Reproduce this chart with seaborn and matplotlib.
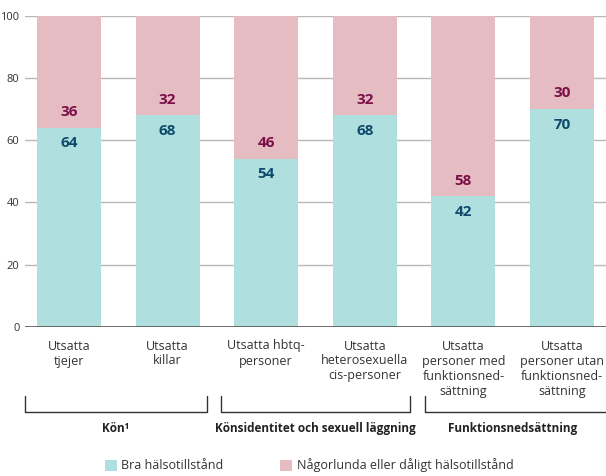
import numpy as np
import matplotlib
matplotlib.use("Agg")
import matplotlib.pyplot as plt
from matplotlib.patches import Patch
import seaborn as sns

# data
###############################################################################
categories = ["Utsatta\ntjejer", "Utsatta\nkillar", "Utsatta hbtq-\npersoner",
              "Utsatta\nheterosexuella\ncis-personer",
              "Utsatta\npersoner med\nfunktionsned-\nsättning",
              "Utsatta\npersoner utan\nfunktionsned-\nsättning"]
good = np.array([64, 68, 54, 68, 42, 70])
poor = np.array([36, 32, 46, 32, 58, 30])
groups = ["Kön¹", "Könsidentitet och sexuell läggning", "Funktionsnedsättning"]
group_span = [(-0.45, 1.40), (1.54, 3.46), (3.61, 5.7)]
yticks = [0, 20, 40, 60, 80, 100]
legend_labels = ["Bra hälsotillstånd", "Någorlunda eller dåligt hälsotillstånd"]

blue = "#b0dfe0"
pink = "#e5bcc2"
blue_txt = "#0d4a6b"
pink_txt = "#7b0f47"

sns.set_style("white")
plt.rcParams['font.family'] = ['Open Sans', 'Noto Sans', 'DejaVu Sans']

fig = plt.figure(figsize=(6.06, 4.76), dpi=100)
ax = fig.add_axes([25 / 606, 149 / 476, 581 / 606, 311.5 / 476])

# stacked bars: total first, good on top of it
###############################################################################
sns.barplot(x=categories, y=good + poor, color=pink, saturation=1, width=0.65,
            linewidth=0, ax=ax, zorder=2)
sns.barplot(x=categories, y=good, color=blue, saturation=1, width=0.65,
            linewidth=0, ax=ax, zorder=3)

for i, (g, p) in enumerate(zip(good, poor)):
    ax.text(i, g - 5, str(g), ha='center', va='center', fontsize=11,
            fontweight='bold', color=blue_txt, zorder=4)
    ax.text(i, g + 5, str(p), ha='center', va='center', fontsize=11,
            fontweight='bold', color=pink_txt, zorder=4)

ax.set_xlim(-0.446, 5.446)
ax.set_ylim(0, 100)
ax.set_yticks(yticks)
ax.set_yticklabels([str(v) for v in yticks])
ax.grid(axis='y', color='#b8b8b8', linewidth=1, zorder=0)
ax.axhline(0, color='#555555', linewidth=1.2, zorder=5)
for s in ax.spines.values():
    s.set_visible(False)
ax.tick_params(axis='y', length=0, pad=4, labelsize=8, labelcolor='#333333')
ax.tick_params(axis='x', length=0, pad=9, labelsize=9, labelcolor='#333333')
ax.set_xlabel('')
ax.set_ylabel('')

# group brackets
###############################################################################
tr = ax.get_xaxis_transform()
y_top, y_bot, y_lab = -0.2215, -0.273, -0.327
for name, (a, b) in zip(groups, group_span):
    ax.plot([a, a, b, b], [y_top, y_bot, y_bot, y_top], color='#333333',
            linewidth=1, transform=tr, clip_on=False)
    ax.text((a + b) / 2 if b < 5.5 else 4.5, y_lab, name, ha='center', va='center',
            fontsize=8.5, fontweight='bold', color='#222222', transform=tr)

handles = [Patch(facecolor=blue, edgecolor='none'), Patch(facecolor=pink, edgecolor='none')]
fig.legend(handles, legend_labels, loc='center', bbox_to_anchor=(0.51, 0.022), ncol=2,
           frameon=False, fontsize=9, handlelength=1.0, handleheight=1.0,
           handletextpad=0.35, columnspacing=4.5, labelcolor='#333333')

plt.savefig('out.png', dpi=100)
